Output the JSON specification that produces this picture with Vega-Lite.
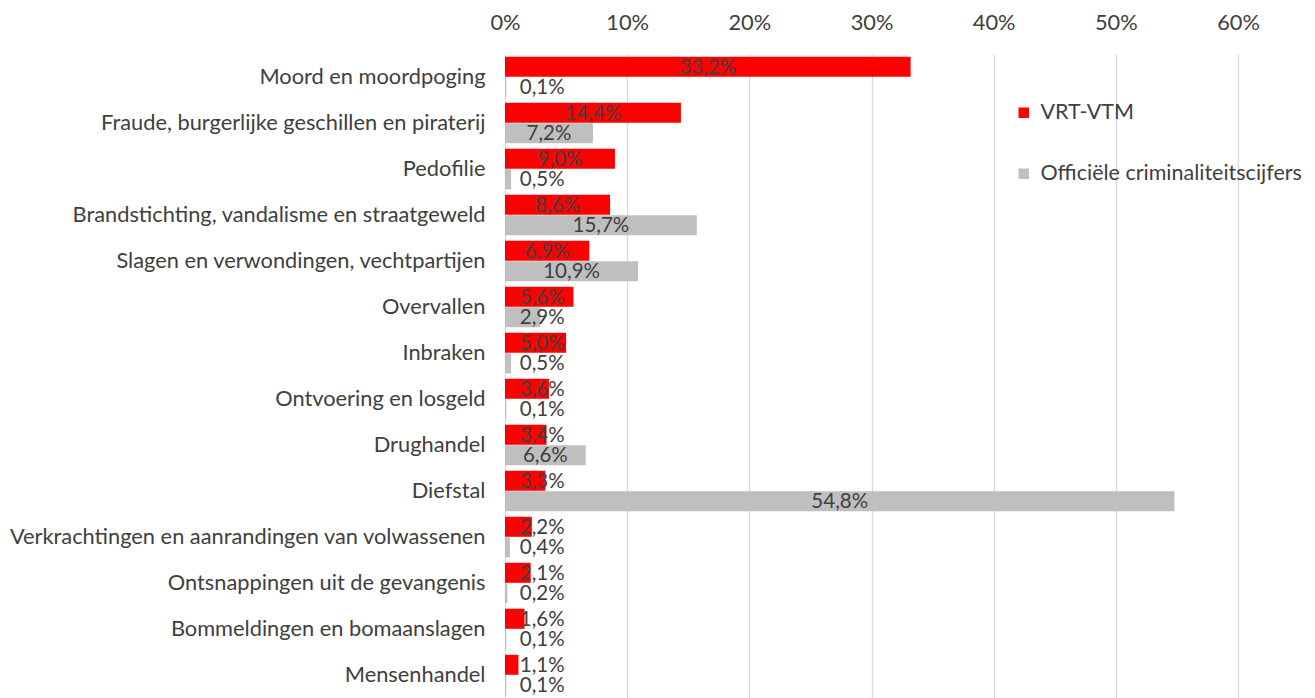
{
  "$schema": "https://vega.github.io/schema/vega-lite/v6.json",
  "width": 733,
  "height": 644,
  "autosize": "none",
  "padding": {"left": 505, "top": 54, "right": 77, "bottom": 0},
  "background": "white",
  "config": {
    "view": {"stroke": null},
    "font": "Lato",
    "axis": {"labelFont": "Lato", "labelFontSize": 21.8, "labelColor": "#404040"},
    "legend": {"labelFont": "Lato", "labelFontSize": 21.5, "labelColor": "#404040", "labelLimit": 0}
  },
  "data": {
    "values": [
      {"categorie": "Moord en moordpoging", "bron": "VRT-VTM", "waarde": 33.2},
      {"categorie": "Moord en moordpoging", "bron": "Officiële criminaliteitscijfers", "waarde": 0.1},
      {"categorie": "Fraude, burgerlijke geschillen en piraterij", "bron": "VRT-VTM", "waarde": 14.4},
      {"categorie": "Fraude, burgerlijke geschillen en piraterij", "bron": "Officiële criminaliteitscijfers", "waarde": 7.2},
      {"categorie": "Pedofilie", "bron": "VRT-VTM", "waarde": 9.0},
      {"categorie": "Pedofilie", "bron": "Officiële criminaliteitscijfers", "waarde": 0.5},
      {"categorie": "Brandstichting, vandalisme en straatgeweld", "bron": "VRT-VTM", "waarde": 8.6},
      {"categorie": "Brandstichting, vandalisme en straatgeweld", "bron": "Officiële criminaliteitscijfers", "waarde": 15.7},
      {"categorie": "Slagen en verwondingen, vechtpartijen", "bron": "VRT-VTM", "waarde": 6.9},
      {"categorie": "Slagen en verwondingen, vechtpartijen", "bron": "Officiële criminaliteitscijfers", "waarde": 10.9},
      {"categorie": "Overvallen", "bron": "VRT-VTM", "waarde": 5.6},
      {"categorie": "Overvallen", "bron": "Officiële criminaliteitscijfers", "waarde": 2.9},
      {"categorie": "Inbraken ", "bron": "VRT-VTM", "waarde": 5.0},
      {"categorie": "Inbraken ", "bron": "Officiële criminaliteitscijfers", "waarde": 0.5},
      {"categorie": "Ontvoering en losgeld", "bron": "VRT-VTM", "waarde": 3.6},
      {"categorie": "Ontvoering en losgeld", "bron": "Officiële criminaliteitscijfers", "waarde": 0.1},
      {"categorie": "Drughandel", "bron": "VRT-VTM", "waarde": 3.4},
      {"categorie": "Drughandel", "bron": "Officiële criminaliteitscijfers", "waarde": 6.6},
      {"categorie": "Diefstal", "bron": "VRT-VTM", "waarde": 3.3},
      {"categorie": "Diefstal", "bron": "Officiële criminaliteitscijfers", "waarde": 54.8},
      {"categorie": "Verkrachtingen en aanrandingen van volwassenen", "bron": "VRT-VTM", "waarde": 2.2},
      {"categorie": "Verkrachtingen en aanrandingen van volwassenen", "bron": "Officiële criminaliteitscijfers", "waarde": 0.4},
      {"categorie": "Ontsnappingen uit de gevangenis", "bron": "VRT-VTM", "waarde": 2.1},
      {"categorie": "Ontsnappingen uit de gevangenis", "bron": "Officiële criminaliteitscijfers", "waarde": 0.2},
      {"categorie": "Bommeldingen en bomaanslagen", "bron": "VRT-VTM", "waarde": 1.6},
      {"categorie": "Bommeldingen en bomaanslagen", "bron": "Officiële criminaliteitscijfers", "waarde": 0.1},
      {"categorie": "Mensenhandel", "bron": "VRT-VTM", "waarde": 1.1},
      {"categorie": "Mensenhandel", "bron": "Officiële criminaliteitscijfers", "waarde": 0.1}
    ]
  },
  "encoding": {
    "y": {
      "field": "categorie",
      "type": "nominal",
      "sort": null,
      "scale": {"paddingInner": 0.12, "paddingOuter": 0.06},
      "axis": {"title": null, "ticks": false, "domain": false, "labelPadding": 20, "labelLimit": 600}
    },
    "yOffset": {
      "field": "bron",
      "type": "nominal",
      "sort": ["VRT-VTM", "Officiële criminaliteitscijfers"],
      "scale": {"paddingInner": 0.02}
    }
  },
  "layer": [
    {
      "mark": {"type": "bar"},
      "encoding": {
        "x": {
          "field": "waarde",
          "type": "quantitative",
          "scale": {"domain": [0, 60], "nice": false},
          "axis": {
            "orient": "top",
            "title": null,
            "values": [0, 10, 20, 30, 40, 50, 60],
            "labelExpr": "datum.value + '%'",
            "labelFlush": false,
            "ticks": false,
            "domain": false,
            "labelPadding": 20,
            "grid": true,
            "gridColor": "#d9d9d9",
            "gridWidth": 1.3
          }
        },
        "color": {
          "field": "bron",
          "type": "nominal",
          "sort": ["VRT-VTM", "Officiële criminaliteitscijfers"],
          "scale": {"domain": ["VRT-VTM", "Officiële criminaliteitscijfers"], "range": ["#ff0000", "#bfbfbf"]},
          "legend": {
            "title": null,
            "orient": "none",
            "legendX": 508,
            "legendY": 48,
            "symbolType": "square",
            "symbolSize": 110,
            "symbolStrokeWidth": 0,
            "rowPadding": 38,
            "labelOffset": 6
          }
        }
      }
    },
    {
      "transform": [
        {"calculate": "max(datum.waarde / 2, 3.05)", "as": "labelpos"},
        {"calculate": "replace(format(datum.waarde, '.1f'), '.', ',') + '%'", "as": "labeltekst"}
      ],
      "mark": {"type": "text", "align": "center", "baseline": "middle", "fontSize": 20.5, "color": "#404040", "dy": 1},
      "encoding": {
        "x": {"field": "labelpos", "type": "quantitative"},
        "text": {"field": "labeltekst"}
      }
    }
  ]
}
